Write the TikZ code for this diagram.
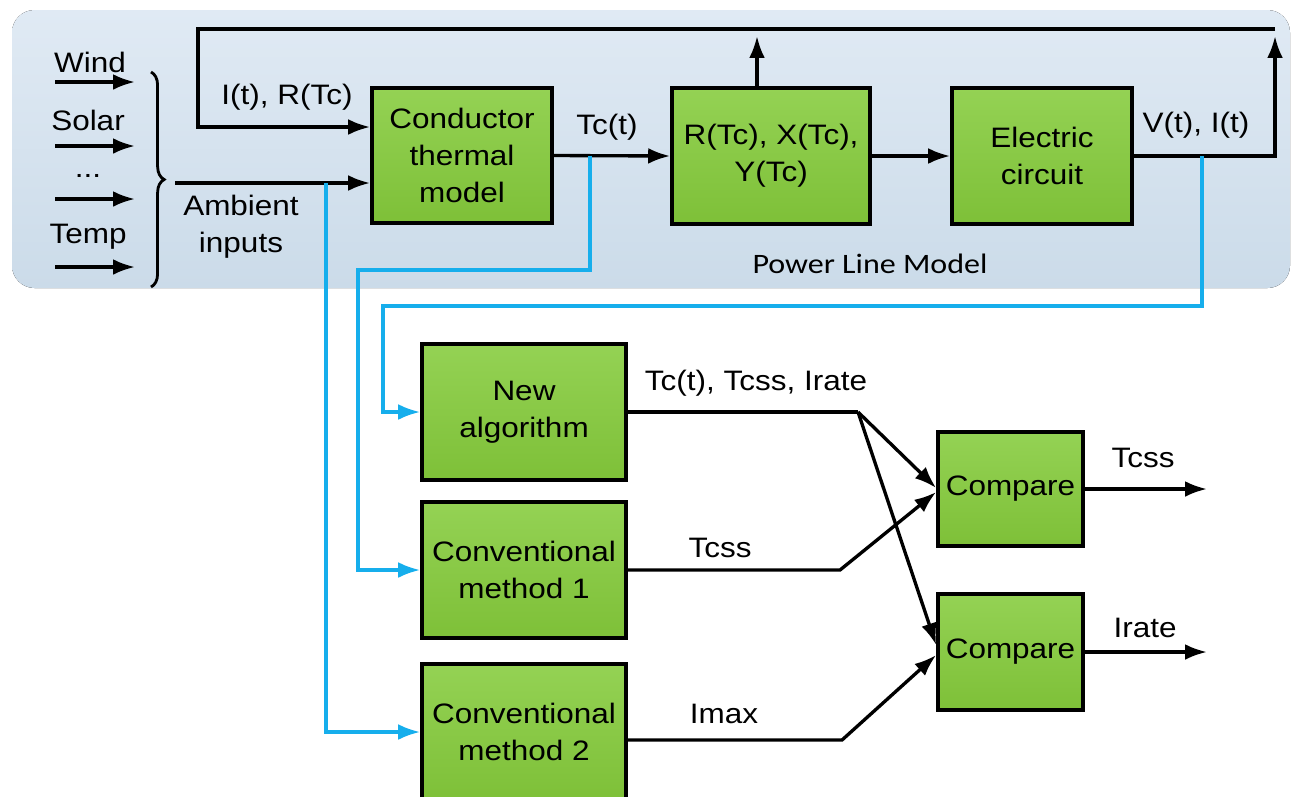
\documentclass[tikz,border=0pt]{standalone}
\usepackage{fontspec}
\setmainfont{Liberation Sans}[FakeStretch=1.12]
\newfontfamily\capfont{Carlito}[FakeStretch=1.14]
\usetikzlibrary{arrows.meta,decorations.pathreplacing,calc}
\definecolor{panelTop}{RGB}{224,234,244}
\definecolor{panelBot}{RGB}{203,219,233}
\definecolor{boxTop}{RGB}{148,210,84}
\definecolor{boxBot}{RGB}{126,192,56}
\definecolor{feed}{RGB}{22,174,236}
\tikzset{
  blk/.style={draw=black, line width=2.1pt, top color=boxTop, bottom color=boxBot,
    align=center, inner sep=0pt, font=\fontsize{16}{21}\selectfont},
  lbl/.style={align=center, inner sep=0pt, font=\fontsize{16}{21}\selectfont},
  wire/.style={line width=1.9pt},
  arr/.style={wire, -{Latex[length=12.5pt,width=9pt]}},
  bwire/.style={draw=feed, line width=1.8pt},
  barr/.style={bwire, -{Latex[length=12.5pt,width=9pt]}},
}
\begin{document}
\begin{tikzpicture}[x=0.02cm,y=-0.02cm]
\useasboundingbox (0,0) rectangle (1293,796);

% power line model panel
\fill[rounded corners=0.45cm, top color=panelTop, bottom color=panelBot]
  (12,10) rectangle (1290,288);
\node[font=\capfont\fontsize{16}{20}\selectfont, inner sep=0pt] (plm) at (870,264) {Power Line Model};

% ambient inputs
\node[lbl] (wind)  at (90,62)  {Wind};
\node[lbl] (solar) at (88,120) {Solar};
\node[lbl] (dots)  at (88,176) {...};
\node[lbl] (temp)  at (88,237) {Temp};
\foreach \n/\y in {wind/82, solar/146, dots/199, temp/267}{
  \coordinate (\n-s) at (55,\y);
  \coordinate (\n-e) at (135,\y);
  \draw[arr] (\n-s) -- (\n-e);
}
\draw[line width=1.6pt, decorate, decoration={brace, amplitude=7.5pt, aspect=0.5}]
  (151,72) -- (151,287);
\node[lbl] (amblbl) at (241,227) {Ambient\\inputs};

% model blocks
\node[blk, minimum width=3.6cm,  minimum height=2.7cm]  (cond) at (462,155.5) {Conductor\\thermal\\model};
\node[blk, minimum width=3.96cm, minimum height=2.72cm] (rxy)  at (771,156)   {R(Tc), X(Tc),\\Y(Tc)};
\node[blk, minimum width=3.6cm,  minimum height=2.72cm] (elec) at (1042,156)  {Electric\\circuit};

% evaluation blocks
\node[blk, minimum width=4.08cm, minimum height=2.72cm] (newalg) at (524,412) {New\\algorithm};
\node[blk, minimum width=4.08cm, minimum height=2.72cm] (cm1)    at (524,570) {Conventional\\method 1};
\node[blk, minimum width=4.08cm, minimum height=2.72cm] (cm2)    at (524,732) {Conventional\\method 2};
\node[blk, minimum width=2.9cm,  minimum height=2.28cm] (cmpA)   at (1010.5,489) {Compare};
\node[blk, minimum width=2.9cm,  minimum height=2.32cm] (cmpB)   at (1010.5,652) {Compare};

% ambient line into the thermal model
\coordinate (amb) at (175,183);
\draw[arr] (amb) -- (amb -| cond.west);

% feedback bus
\coordinate (busL) at (198,29);
\coordinate (busR) at (1275,29);
\coordinate (fbk)  at (198,127);
\draw[arr] (busR) -- (busL) -- (fbk) -- (fbk -| cond.west);
\node[lbl] (fbklbl) at (287,97) {I(t), R(Tc)};

\draw[arr] (cond.east) -- (rxy.west);
\node[lbl] (tclbl) at (607,127) {Tc(t)};
\coordinate (rtop) at (757,36);
\draw[arr] (rtop |- rxy.north) -- (rtop);
\draw[arr] (rxy.east) -- (elec.west);
\coordinate (rtip) at (1275,36);
\draw[arr] (elec.east) -- (elec.east -| rtip) -- (rtip);
\node[lbl] (vilbl) at (1196,125) {V(t), I(t)};

% feeds to the evaluation blocks
\coordinate (tapTc)  at (590,155.5);
\coordinate (tapAmb) at (326,183);
\coordinate (tapV)   at (1202,156);
\draw[barr] (tapTc) |- (358,270) |- (cm1.west);
\draw[barr] (tapAmb) |- (cm2.west);
\draw[barr] (tapV) |- (383,306) |- (newalg.west);

% comparison
\coordinate (split) at (858,412);
\draw[wire] (newalg.east) -- (split);
\draw[arr] (split) -- ($(cmpA.west)+(0,-1)$);
\draw[arr] (split) -- ($(cmpB.west)+(0,-7)$);
\node[lbl] (l1) at (756,383) {Tc(t), Tcss, Irate};

\coordinate (k1) at (840,570);
\draw[arr] (cm1.east) -- (k1) -- ($(cmpA.west)+(0,3)$);
\node[lbl] (l2) at (720,548) {Tcss};

\coordinate (k2) at (842,740);
\draw[arr] (cm2.east |- k2) -- (k2) -- ($(cmpB.west)+(0,3)$);
\node[lbl] (l3) at (724,714) {Imax};

\coordinate (oA) at (1207,489);
\coordinate (oB) at (1207,652);
\draw[arr] (cmpA.east) -- (oA);
\draw[arr] (cmpB.east) -- (oB);
\node[lbl] (l4) at (1143,458) {Tcss};
\node[lbl] (l5) at (1145,628) {Irate};
\end{tikzpicture}
\end{document}
